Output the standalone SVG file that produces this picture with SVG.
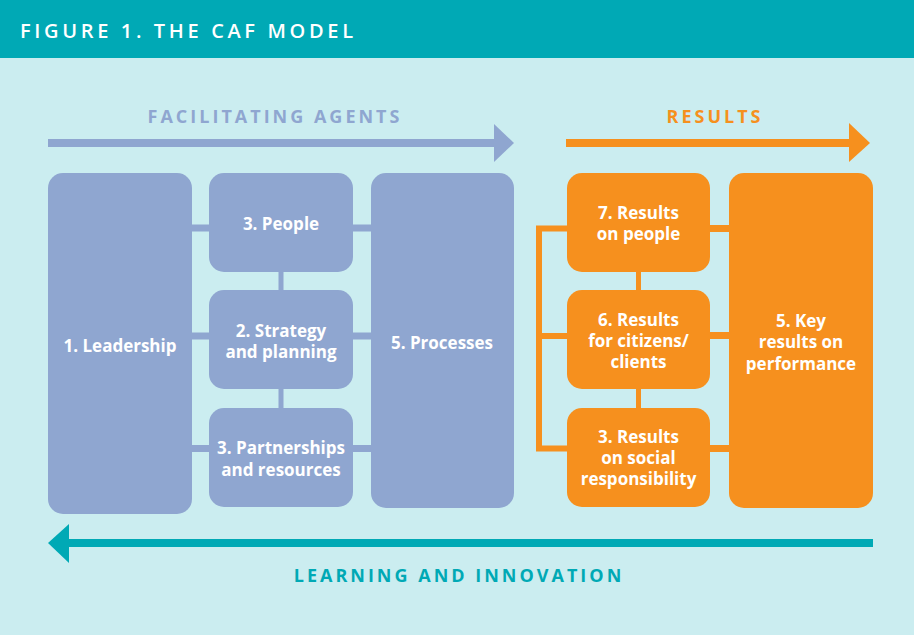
<svg xmlns="http://www.w3.org/2000/svg" width="914" height="635" viewBox="0 0 914 635">
<style>
.bg{fill:#CBEDF0}
.hdr{fill:#00A9B5}
.blue{fill:#8FA6D0}
.orange{fill:#F6901E}
.cb{stroke:#8FA6D0;stroke-width:7;fill:none}
.co{stroke:#F6901E;stroke-width:7;fill:none}
.bt{font-family:"Open Sans","Liberation Sans",sans-serif;font-weight:700;font-size:17px;fill:#fff;text-anchor:middle}
.lbl{font-family:"Open Sans","Liberation Sans",sans-serif;font-weight:700;font-size:18px;text-anchor:middle;letter-spacing:3px}
</style>
<rect class="bg" x="0" y="0" width="914" height="635"/>
<rect class="hdr" x="0" y="0" width="914" height="58"/>
<text x="20" y="38" font-family="'Open Sans','Liberation Sans',sans-serif" font-weight="600" font-size="20" fill="#fff" letter-spacing="3" textLength="336" lengthAdjust="spacing">FIGURE 1. THE CAF MODEL</text>

<g id="arrows">
<rect x="48" y="139" width="450" height="8" fill="#8FA6D0"/>
<polygon points="494,124 514,143 494,162" fill="#8FA6D0"/>
<rect x="566" y="139" width="286" height="8" fill="#F6901E"/>
<polygon points="849,123 870,143 849,162" fill="#F6901E"/>
<rect x="66" y="539" width="807" height="8" fill="#00A9B5"/>
<polygon points="69,524 48,543 69,563" fill="#00A9B5"/>
</g>
<text class="lbl" x="275" y="123" fill="#8FA6D0">FACILITATING AGENTS</text>
<text class="lbl" x="715" y="123" fill="#F6901E">RESULTS</text>
<text class="lbl" x="459" y="582" fill="#00A9B5">LEARNING AND INNOVATION</text>

<g id="connectors">
<line class="cb" x1="190" y1="228" x2="373" y2="228"/>
<line class="cb" x1="190" y1="336" x2="373" y2="336"/>
<line class="cb" x1="190" y1="448.5" x2="373" y2="448.5"/>
<line class="cb" x1="281" y1="270" x2="281" y2="410" style="stroke-width:5"/>
<line class="co" x1="708" y1="228.5" x2="731" y2="228.5"/>
<line class="co" x1="708" y1="335.5" x2="731" y2="335.5"/>
<line class="co" x1="708" y1="448.5" x2="731" y2="448.5"/>
<line class="co" x1="638.5" y1="270" x2="638.5" y2="410" style="stroke-width:5"/>
<polyline class="co" points="569,228.5 539,228.5 539,448.5 569,448.5" style="stroke-width:6"/>
<line class="co" x1="539" y1="336" x2="569" y2="336" style="stroke-width:6"/>
</g>

<g id="leadership"><rect class="blue" x="48" y="173" width="144" height="341" rx="15"/><text class="bt" x="120" y="352">1. Leadership</text></g>
<g id="people"><rect class="blue" x="209" y="173" width="144" height="99" rx="15"/><text class="bt" x="281" y="230">3. People</text></g>
<g id="strategy"><rect class="blue" x="209" y="290" width="144" height="99" rx="15"/><text class="bt" x="281" y="337">2. Strategy</text><text class="bt" x="281" y="358">and planning</text></g>
<g id="partnerships"><rect class="blue" x="209" y="408" width="144" height="99" rx="15"/><text class="bt" x="281" y="454">3. Partnerships</text><text class="bt" x="281" y="476">and resources</text></g>
<g id="processes"><rect class="blue" x="371" y="173" width="143" height="335" rx="15"/><text class="bt" x="442" y="349">5. Processes</text></g>

<g id="results-people"><rect class="orange" x="567" y="173" width="143" height="99" rx="15"/><text class="bt" x="638.5" y="219">7. Results</text><text class="bt" x="638.5" y="240">on people</text></g>
<g id="results-citizens"><rect class="orange" x="567" y="290" width="143" height="99" rx="15"/><text class="bt" x="638.5" y="326">6. Results</text><text class="bt" x="638.5" y="347">for citizens/</text><text class="bt" x="638.5" y="368">clients</text></g>
<g id="results-social"><rect class="orange" x="567" y="408" width="143" height="99" rx="15"/><text class="bt" x="638.5" y="443">3. Results</text><text class="bt" x="638.5" y="464">on social</text><text class="bt" x="638.5" y="485">responsibility</text></g>
<g id="key-results"><rect class="orange" x="729" y="173" width="144" height="335" rx="15"/><text class="bt" x="801" y="327">5. Key</text><text class="bt" x="801" y="348">results on</text><text class="bt" x="801" y="370">performance</text></g>
</svg>
